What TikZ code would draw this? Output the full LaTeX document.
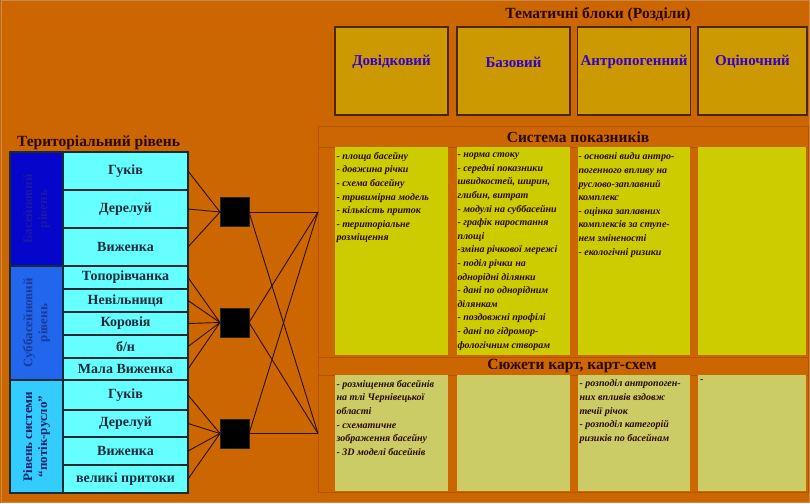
\documentclass[tikz,border=0pt]{standalone}
\usepackage{fontspec}
\setmainfont{Liberation Serif}
\definecolor{bg}{HTML}{CC6600}
\definecolor{framec}{HTML}{B35500}
\definecolor{goldbox}{HTML}{CC9900}
\definecolor{goldline}{HTML}{4D2600}
\definecolor{boxtext}{HTML}{3300CC}
\definecolor{headtext}{HTML}{2A0800}
\definecolor{yelcell}{HTML}{CCCC00}
\definecolor{khaki}{HTML}{CCCC66}
\definecolor{celltext}{HTML}{2A0A00}
\definecolor{cyanc}{HTML}{66FFFF}
\definecolor{rowtext}{HTML}{1A2A3A}
\definecolor{tblline}{HTML}{1A2A33}
\definecolor{secA}{HTML}{0505CC}
\definecolor{secAt}{HTML}{1A1AA8}
\definecolor{secB}{HTML}{2266EE}
\definecolor{secBt}{HTML}{1A3A99}
\definecolor{secC}{HTML}{33CCFF}
\definecolor{secCt}{HTML}{1A2266}
\definecolor{conn}{HTML}{2B0F00}
\begin{document}
\begin{tikzpicture}[x=1pt,y=-1pt,
  every node/.style={inner sep=0pt, outer sep=0pt},
  cyancell/.style={draw=tblline, line width=1.1pt, fill=cyanc, minimum width=125pt,
    font=\fontsize{14}{16}\selectfont\bfseries, text=rowtext},
  seccell/.style={draw=tblline, line width=1.1pt, minimum width=53pt},
  seclabel/.style={rotate=90, align=center, font=\fontsize{13}{15}\selectfont\bfseries},
  sqbox/.style={fill=black, draw=black!85, minimum size=29pt},
  link/.style={draw=conn, line width=0.9pt},
  thbox/.style={draw=goldline, line width=1.3pt, fill=goldbox, minimum height=88pt},
  thtext/.style={font=\fontsize{15}{17}\selectfont\bfseries, text=boxtext},
  heading/.style={font=\fontsize{15.5}{18}\selectfont\bfseries, text=headtext},
  ycell/.style={fill=yelcell, minimum height=208pt},
  kcell/.style={fill=khaki, minimum height=116pt},
  celltxt/.style={anchor=north west, align=left, text=celltext,
    font=\fontsize{10}{13.6}\selectfont\bfseries\itshape}
]
\useasboundingbox (0,0) rectangle (810,503);
\fill[bg] (0,0) rectangle (810,503);
\draw[framec!70!white, line width=1pt] (1,1) rectangle (809,502);

% ---------- thematic blocks ----------
\node[heading] (tbtitle) at (598,15) {Тематичні блоки (Розділи)};
\node[thbox, minimum width=113pt] (t1) at (391.5,71) {};
\node[thbox, minimum width=113pt] (t2) at (513.5,71) {};
\node[thbox, minimum width=113pt] (t3) at (634,71) {};
\node[thbox, minimum width=109pt] (t4) at (752.5,71) {};
\node[thtext] (t1l) at (391.5,62) {Довідковий};
\node[thtext] (t2l) at (513.5,62) {Базовий};
\node[thtext] (t3l) at (634,62) {Антропогенний};
\node[thtext] (t4l) at (752.5,62) {Оціночний};

% ---------- panel frame ----------
\draw[framec, line width=0.8pt] (318,126) rectangle (808,492);
\draw[framec, line width=0.8pt] (318,147) -- (808,147);
\draw[framec, line width=0.8pt] (318,357) -- (808,357);
\draw[framec, line width=0.8pt] (318,375) -- (808,375);
\node[heading] (sysh) at (578,137) {Система показників};
\node[heading] (syuh) at (572,366) {Сюжети карт, карт-схем};

% ---------- indicator cells ----------
\node[ycell, minimum width=113pt] (c1) at (391.5,251) {};
\node[ycell, minimum width=113pt] (c2) at (513.5,251) {};
\node[ycell, minimum width=112pt] (c3) at (633.5,251) {};
\node[ycell, minimum width=108pt] (c4) at (752,251) {};
\node[celltxt] (c1t) at (336.5,152) {- площа басейну\\- довжина річки\\- схема басейну\\- тривимірна модель\\- кількість приток\\- територіальне\\розміщення};
\node[celltxt] (c2t) at (457.5,153) {- норма стоку\\- середні показники\\швидкостей, ширин,\\глибин, витрат\\- модулі на суббасейни\\- графік наростання\\площі\\-зміна річкової мережі\\- поділ річки на\\однорідні ділянки\\- дані по однорідним\\ділянкам\\- поздовжні профілі\\- дані по гідромор-\\фологічним створам};
\node[celltxt] (c3t) at (578.5,153) {- основні види антро-\\погенного впливу на\\руслово-заплавний\\комплекс\\- оцінка заплавних\\комплексів за ступе-\\нем зміненості\\- екологічні ризики};

% ---------- map cells ----------
\node[kcell, minimum width=113pt] (m1) at (391.5,433) {};
\node[kcell, minimum width=113pt] (m2) at (513.5,433) {};
\node[kcell, minimum width=112pt] (m3) at (633.5,433) {};
\node[kcell, minimum width=108pt] (m4) at (752,433) {};
\node[celltxt] (m1t) at (336.5,380) {- розміщення басейнів\\на тлі Чернівецької\\області\\- схематичне\\зображення басейну\\- 3D моделі басейнів};
\node[celltxt] (m3t) at (579.5,380) {- розподіл антропоген-\\них впливів вздовж\\течії річок\\- розподіл категорій\\ризиків по басейнам};
\node[celltxt] (m4t) at (700,380) {-};

% ---------- territorial table ----------
\node[heading, anchor=west] (terr) at (17,143) {Територіальний рівень};

\node[seccell, fill=secA, minimum height=114pt] (s1) at (36.5,209) {};
\node[seccell, fill=secB, minimum height=114pt] (s2) at (36.5,323) {};
\node[seccell, fill=secC, minimum height=113pt] (s3) at (36.5,436.5) {};
\node[seclabel, text=secAt] (s1l) at (s1) {Басейновий\\рівень};
\node[seclabel, text=secBt] (s2l) at (s2) {Суббасейновий\\рівень};
\node[seclabel, text=secCt] (s3l) at (s3) {Рівень системи\\“потік-русло”};

\node[cyancell, minimum height=38pt] (a1) at (125.5,171) {Гуків};
\node[cyancell, minimum height=38pt] (a2) at (125.5,209) {Дерелуй};
\node[cyancell, minimum height=38pt] (a3) at (125.5,247) {Виженка};

\node[cyancell, minimum height=23pt] (b1) at (125.5,277.5) {Топорівчанка};
\node[cyancell, minimum height=23pt] (b2) at (125.5,300.5) {Невільниця};
\node[cyancell, minimum height=23pt] (b3) at (125.5,323.5) {Коровія};
\node[cyancell, minimum height=23pt] (b4) at (125.5,346.5) {б/н};
\node[cyancell, minimum height=22pt] (b5) at (125.5,369) {Мала Виженка};

\node[cyancell, minimum height=30pt] (d1) at (125.5,395) {Гуків};
\node[cyancell, minimum height=27pt] (d2) at (125.5,423.5) {Дерелуй};
\node[cyancell, minimum height=28pt] (d3) at (125.5,451) {Виженка};
\node[cyancell, minimum height=28pt] (d4) at (125.5,479) {великі притоки};

% ---------- connector hubs ----------
\node[sqbox] (q1) at (234.5,212) {};
\node[sqbox] (q2) at (234.5,322.5) {};
\node[sqbox] (q3) at (234.5,433.5) {};
\coordinate (T) at (318,212);
\coordinate (B) at (318,433.5);

\foreach \c in {a1,a2,a3} \draw[link] (\c.east) -- (q1.west);
\foreach \c in {b1,b2,b3,b4,b5} \draw[link] (\c.east) -- (q2.west);
\foreach \c in {d1,d2,d3,d4} \draw[link] (\c.east) -- (q3.west);
\foreach \q in {q1,q2,q3} {
  \draw[link] (\q.east) -- (T);
  \draw[link] (\q.east) -- (B);
}
\end{tikzpicture}
\end{document}
